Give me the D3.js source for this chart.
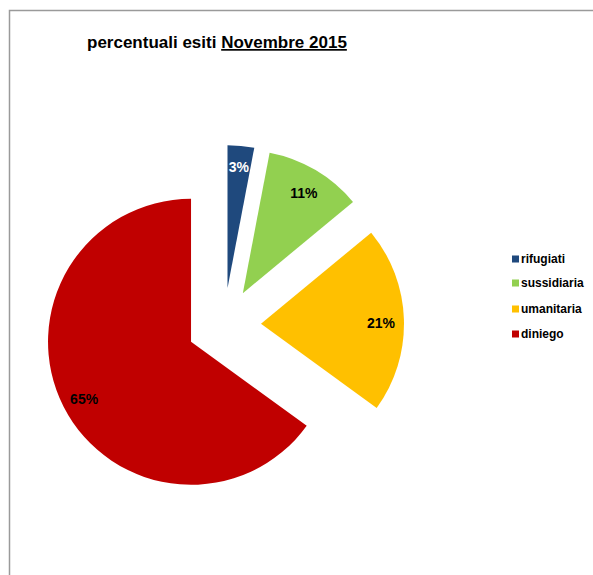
<!DOCTYPE html>
<html>
<head>
<meta charset="utf-8">
<script src="https://cdn.jsdelivr.net/npm/d3@7"></script>
<style>
  html, body { margin: 0; padding: 0; background: #fff; }
  svg { display: block; }
</style>
</head>
<body>
<svg id="chart" width="593" height="575"></svg>
<script>
const categories = ["rifugiati", "sussidiaria", "umanitaria", "diniego"];
const values = [3, 11, 21, 65];
const labels = ["3%", "11%", "21%", "65%"];
const colors = ["#1F497D", "#92D050", "#FFC000", "#C00000"];
const labelColors = ["#ffffff", "#000000", "#000000", "#000000"];

const svg = d3.select("#chart");
const font = "'Liberation Sans', Arial, sans-serif";

// outer border
svg.append("rect")
  .attr("x", 9.5).attr("y", 10.5)
  .attr("width", 800).attr("height", 800)
  .attr("fill", "#fff")
  .attr("stroke", "#9a9a9a").attr("stroke-width", 1.5);

// title
const title = svg.append("text")
  .attr("x", 87).attr("y", 48)
  .attr("font-family", font).attr("font-weight", "bold")
  .attr("font-size", 17).attr("fill", "#000");
title.append("tspan").text("percentuali esiti ");
title.append("tspan").attr("text-decoration", "underline").text("Novembre 2015");

// pie
const cx = 224, cy = 325, r = 143, explode = 37, labelDist = 120;
const pie = d3.pie().sort(null).value(d => d)(values);
const arc = d3.arc().innerRadius(0).outerRadius(r);

const g = svg.append("g").attr("transform", `translate(${cx},${cy})`);
pie.forEach((p, i) => {
  const mid = (p.startAngle + p.endAngle) / 2;
  const dx = Math.sin(mid) * explode, dy = -Math.cos(mid) * explode;
  const sg = g.append("g").attr("transform", `translate(${dx},${dy})`);
  sg.append("path").attr("d", arc(p)).attr("fill", colors[i]);
  sg.append("text")
    .attr("x", Math.sin(mid) * labelDist)
    .attr("y", -Math.cos(mid) * labelDist)
    .attr("dy", i === 0 ? "0.2em" : "0.55em")
    .attr("text-anchor", "middle")
    .attr("font-family", font).attr("font-weight", "bold")
    .attr("font-size", 14).attr("fill", labelColors[i])
    .text(labels[i]);
});

// legend
const legendY = [259, 283, 309, 334];
const lg = svg.append("g");
categories.forEach((c, i) => {
  lg.append("rect")
    .attr("x", 512).attr("y", legendY[i] - 3.5)
    .attr("width", 7).attr("height", 7)
    .attr("fill", colors[i]);
  lg.append("text")
    .attr("x", 521).attr("y", legendY[i])
    .attr("dy", "0.35em")
    .attr("font-family", font).attr("font-weight", "bold")
    .attr("font-size", 12).attr("fill", "#000")
    .text(c);
});
</script>
</body>
</html>
